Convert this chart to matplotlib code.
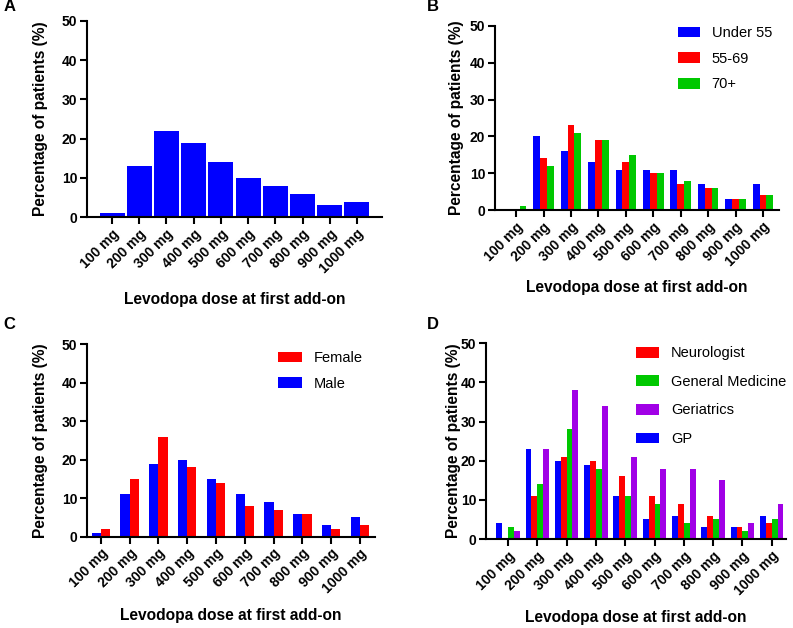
import matplotlib.pyplot as plt
import numpy as np

plt.rcParams['font.family'] = ['Liberation Sans', 'DejaVu Sans']

doses = ["100 mg", "200 mg", "300 mg", "400 mg", "500 mg",
         "600 mg", "700 mg", "800 mg", "900 mg", "1000 mg"]

# Panel A: all patients
overall = [1, 13, 22, 19, 14, 10, 8, 6, 3, 4]

# Panel B: age groups
under55 = [0, 20, 16, 13, 11, 11, 11, 7, 3, 7]
age55_69 = [0, 14, 23, 19, 13, 10, 7, 6, 3, 4]
age70 = [1, 12, 21, 19, 15, 10, 8, 6, 3, 4]

# Panel C: sex
male = [1, 11, 19, 20, 15, 11, 9, 6, 3, 5]
female = [2, 15, 26, 18, 14, 8, 7, 6, 2, 3]

# Panel D: prescriber specialty
gp = [4, 23, 20, 19, 11, 5, 6, 3, 3, 6]
neurologist = [0, 11, 21, 20, 16, 11, 9, 6, 3, 4]
gen_medicine = [3, 14, 28, 18, 11, 9, 4, 5, 2, 5]
geriatrics = [2, 23, 38, 34, 21, 18, 18, 15, 4, 9]

BLUE = "#0000FF"
RED = "#FF0000"
GREEN = "#00C800"
PURPLE = "#A100E6"

x = np.arange(len(doses))

fig = plt.figure(figsize=(7.93, 6.28), dpi=100)
axA = fig.add_axes([0.1097, 0.654, 0.372, 0.313])
axB = fig.add_axes([0.6242, 0.6656, 0.358, 0.293])
axC = fig.add_axes([0.1097, 0.1454, 0.363, 0.3064])
axD = fig.add_axes([0.6129, 0.1417, 0.378, 0.3116])


def style(ax, xlim, ypad, xpad):
    ax.set_ylim(0, 50)
    ax.set_xlim(*xlim)
    ax.set_yticks([0, 10, 20, 30, 40, 50])
    ax.set_xticks(x)
    ax.set_xticklabels(doses, rotation=45, ha="right", rotation_mode="anchor")
    for s in ["top", "right"]:
        ax.spines[s].set_visible(False)
    for s in ["left", "bottom"]:
        ax.spines[s].set_linewidth(1.5)
    ax.tick_params(width=1.5, length=5, labelsize=10, pad=2)
    for lab in ax.get_xticklabels() + ax.get_yticklabels():
        lab.set_fontweight("bold")
    ax.set_ylabel("Percentage of patients (%)", fontsize=11.2, fontweight="bold", labelpad=ypad)
    ax.set_xlabel("Levodopa dose at first add-on", fontsize=11.2, fontweight="bold", labelpad=xpad)


# A
axA.bar(x, overall, width=0.92, color=BLUE)
style(axA, (-0.92, 9.92), 10, 11)

# B
w = 0.25
axB.bar(x - w, under55, width=w, color=BLUE, label="Under 55")
axB.bar(x, age55_69, width=w, color=RED, label="55-69")
axB.bar(x + w, age70, width=w, color=GREEN, label="70+")
style(axB, (-0.77, 9.58), 4, 8)
axB.legend(loc="upper left", bbox_to_anchor=(0.645, 1.0), frameon=False, fontsize=10.5,
           handlelength=1.5, handleheight=0.75, handletextpad=0.8, labelspacing=0.8,
           borderpad=0, borderaxespad=0)

# C
w = 0.32
axC.bar(x - w / 2, male, width=w, color=BLUE, label="Male")
axC.bar(x + w / 2, female, width=w, color=RED, label="Female")
style(axC, (-0.48, 9.52), 10, 9)
h, l = axC.get_legend_handles_labels()
axC.legend(h[::-1], l[::-1], loc="upper left", bbox_to_anchor=(0.665, 0.965), frameon=False,
           fontsize=10.5, handlelength=1.6, handleheight=0.75, handletextpad=0.8, labelspacing=0.8,
           borderpad=0, borderaxespad=0)

# D
w = 0.2
bGP = axD.bar(x - 1.5 * w, gp, width=w, color=BLUE, label="GP")
bN = axD.bar(x - 0.5 * w, neurologist, width=w, color=RED, label="Neurologist")
bGM = axD.bar(x + 0.5 * w, gen_medicine, width=w, color=GREEN, label="General Medicine")
bG = axD.bar(x + 1.5 * w, geriatrics, width=w, color=PURPLE, label="Geriatrics")
style(axD, (-0.75, 9.48), 0, 8.5)
axD.legend([bN, bGM, bG, bGP], ["Neurologist", "General Medicine", "Geriatrics", "GP"],
           loc="upper left", bbox_to_anchor=(0.5, 0.985), frameon=False, fontsize=10.5,
           handlelength=1.6, handleheight=0.75, handletextpad=0.8, labelspacing=1.0,
           borderpad=0, borderaxespad=0)

for lab, (fx, fy) in zip("ABCD", [(0.004, 0.977), (0.538, 0.977), (0.004, 0.472), (0.538, 0.472)]):
    fig.text(fx, fy, lab, fontsize=12, fontweight="bold", va="bottom")

fig.savefig("out.png", dpi=100)
